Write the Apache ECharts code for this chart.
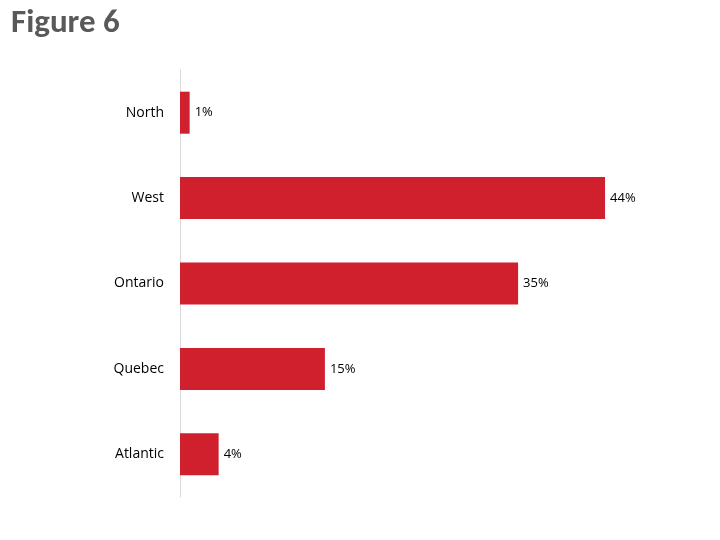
<!DOCTYPE html>
<html><head><meta charset="utf-8">
<script src="https://cdn.jsdelivr.net/npm/echarts@6/dist/echarts.min.js"></script>
<style>html,body{margin:0;padding:0;background:#fff}#c{width:720px;height:540px}</style>
</head><body><div id="c"></div>
<script>
const categories = ['Atlantic','Quebec','Ontario','West','North'];
const values = [4,15,35,44,1];
const chart = echarts.init(document.getElementById('c'));
chart.setOption({
  animation:false,
  title:{text:'Figure 6',left:6,top:2,textStyle:{fontFamily:'Calibri, Carlito, "Liberation Sans", sans-serif',fontSize:33,fontWeight:'bold',color:'#595959'}},
  grid:{left:180,right:57,top:70,bottom:43},
  xAxis:{type:'value',min:0,max:50,show:false},
  yAxis:{type:'category',data:categories,
    axisLine:{lineStyle:{color:'#d9d9d9'}},
    axisTick:{length:6,lineStyle:{color:'#d9d9d9'}},
    axisLabel:{color:'#000',fontSize:14,margin:16,fontFamily:'"Open Sans", sans-serif'}},
  series:[{type:'bar',data:values,barWidth:42,itemStyle:{color:'#d0202e'},
    label:{show:true,position:'right',formatter:'{c}%',color:'#000',fontSize:13,distance:5,fontFamily:'"Open Sans", sans-serif'}}]
});
</script></body></html>
